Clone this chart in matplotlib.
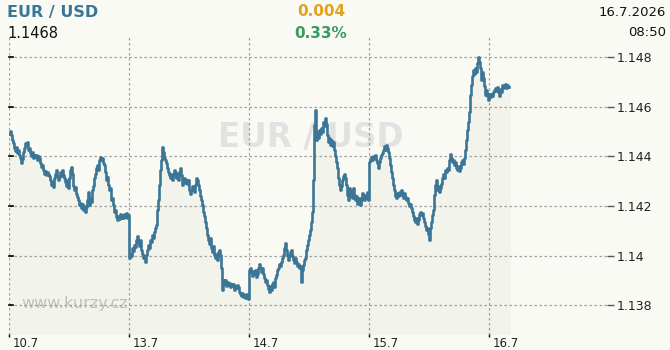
import numpy as np
import matplotlib
matplotlib.use("Agg")
import matplotlib.pyplot as plt
import matplotlib.transforms as mtrans

# EUR/USD quotes, one reading every 12 minutes of trading time
day_10_7 = [
    1.14490, 1.14502, 1.14486, 1.14465, 1.14453, 1.14433, 1.14421, 1.14437, 1.14413, 1.14425,
    1.14405, 1.14393, 1.14373, 1.14389, 1.14417, 1.14433, 1.14453, 1.14445, 1.14457, 1.14425,
    1.14433, 1.14413, 1.14401, 1.14417, 1.14393, 1.14405, 1.14397, 1.14405, 1.14385, 1.14401,
    1.14393, 1.14373, 1.14357, 1.14365, 1.14345, 1.14328, 1.14341, 1.14324, 1.14337, 1.14328,
    1.14320, 1.14304, 1.14284, 1.14296, 1.14276, 1.14312, 1.14328, 1.14345, 1.14320, 1.14304,
    1.14316, 1.14337, 1.14320, 1.14345, 1.14324, 1.14312, 1.14296, 1.14280, 1.14304, 1.14272,
    1.14312, 1.14345, 1.14357, 1.14328, 1.14280, 1.14264, 1.14276, 1.14248, 1.14236, 1.14224,
    1.14204, 1.14212, 1.14191, 1.14208, 1.14183, 1.14200, 1.14175, 1.14196, 1.14224, 1.14256,
    1.14204, 1.14232, 1.14216, 1.14264, 1.14280, 1.14312, 1.14328, 1.14353, 1.14365, 1.14345,
    1.14385, 1.14397, 1.14385, 1.14393, 1.14373, 1.14365, 1.14337, 1.14304, 1.14316, 1.14284,
    1.14264, 1.14272, 1.14224, 1.14232, 1.14204, 1.14175, 1.14183, 1.14155, 1.14143, 1.14159,
    1.14147, 1.14167, 1.14151, 1.14163, 1.14151, 1.14167, 1.14155, 1.14171, 1.14151, 1.14163,
]
day_13_7 = [
    1.13990, 1.14006, 1.13998, 1.14030, 1.14018, 1.14042, 1.14034, 1.14062, 1.14079, 1.14054,
    1.14038, 1.14062, 1.14022, 1.14006, 1.13990, 1.13998, 1.13974, 1.14002, 1.14022, 1.14042,
    1.14030, 1.14062, 1.14054, 1.14083, 1.14071, 1.14095, 1.14111, 1.14123, 1.14183, 1.14224,
    1.14284, 1.14345, 1.14385, 1.14437, 1.14417, 1.14393, 1.14385, 1.14373, 1.14353, 1.14337,
    1.14324, 1.14312, 1.14328, 1.14304, 1.14320, 1.14345, 1.14337, 1.14312, 1.14328, 1.14304,
    1.14337, 1.14353, 1.14324, 1.14284, 1.14296, 1.14312, 1.14292, 1.14304, 1.14288, 1.14304,
    1.14264, 1.14248, 1.14264, 1.14280, 1.14272, 1.14256, 1.14284, 1.14312, 1.14304, 1.14284,
    1.14264, 1.14240, 1.14224, 1.14204, 1.14175, 1.14159, 1.14135, 1.14111, 1.14083, 1.14062,
    1.14046, 1.14071, 1.14030, 1.14014, 1.14038, 1.14002, 1.13990, 1.14006, 1.13982, 1.14014,
    1.14022, 1.14002, 1.13950, 1.13861, 1.13901, 1.13885, 1.13901, 1.13877, 1.13893, 1.13881,
    1.13889, 1.13873, 1.13885, 1.13877, 1.13885, 1.13861, 1.13877, 1.13869, 1.13881, 1.13873,
    1.13853, 1.13845, 1.13837, 1.13849, 1.13833, 1.13841, 1.13829, 1.13845, 1.13837, 1.13825,
]
day_14_7 = [
    1.13942, 1.13950, 1.13933, 1.13917, 1.13938, 1.13925, 1.13942, 1.13913, 1.13925, 1.13950,
    1.13966, 1.13950, 1.13933, 1.13950, 1.13925, 1.13909, 1.13893, 1.13901, 1.13881, 1.13865,
    1.13853, 1.13877, 1.13861, 1.13885, 1.13893, 1.13873, 1.13909, 1.13921, 1.13942, 1.13950,
    1.13966, 1.13958, 1.13974, 1.13990, 1.14002, 1.14030, 1.14050, 1.14022, 1.14002, 1.13982,
    1.13998, 1.14014, 1.14022, 1.13998, 1.13982, 1.13970, 1.13990, 1.13974, 1.13958, 1.13966,
    1.13950, 1.13958, 1.13893, 1.13942, 1.13962, 1.13982, 1.13990, 1.14022, 1.14042, 1.14062,
    1.14083, 1.14103, 1.14135, 1.14175, 1.14304, 1.14526, 1.14586, 1.14465, 1.14498, 1.14474,
    1.14506, 1.14490, 1.14514, 1.14498, 1.14538, 1.14522, 1.14554, 1.14530, 1.14486, 1.14457,
    1.14474, 1.14445, 1.14465, 1.14441, 1.14457, 1.14425, 1.14401, 1.14377, 1.14353, 1.14312,
    1.14284, 1.14264, 1.14280, 1.14304, 1.14320, 1.14328, 1.14312, 1.14284, 1.14244, 1.14224,
    1.14272, 1.14240, 1.14264, 1.14232, 1.14272, 1.14244, 1.14224, 1.14240, 1.14208, 1.14224,
    1.14232, 1.14204, 1.14224, 1.14252, 1.14236, 1.14224, 1.14244, 1.14232, 1.14256, 1.14224,
]
day_15_7 = [
    1.14377, 1.14385, 1.14397, 1.14385, 1.14401, 1.14393, 1.14405, 1.14385, 1.14373, 1.14353,
    1.14377, 1.14393, 1.14405, 1.14413, 1.14425, 1.14441, 1.14425, 1.14445, 1.14433, 1.14417,
    1.14393, 1.14365, 1.14337, 1.14312, 1.14284, 1.14264, 1.14240, 1.14232, 1.14252, 1.14240,
    1.14256, 1.14244, 1.14264, 1.14248, 1.14232, 1.14252, 1.14236, 1.14224, 1.14232, 1.14212,
    1.14200, 1.14208, 1.14191, 1.14175, 1.14159, 1.14143, 1.14135, 1.14151, 1.14127, 1.14143,
    1.14167, 1.14175, 1.14163, 1.14171, 1.14151, 1.14135, 1.14119, 1.14103, 1.14111, 1.14087,
    1.14062, 1.14111, 1.14135, 1.14163, 1.14183, 1.14244, 1.14284, 1.14304, 1.14264, 1.14280,
    1.14256, 1.14272, 1.14288, 1.14312, 1.14328, 1.14312, 1.14345, 1.14337, 1.14353, 1.14345,
    1.14385, 1.14409, 1.14393, 1.14377, 1.14385, 1.14365, 1.14377, 1.14353, 1.14345, 1.14361,
    1.14341, 1.14353, 1.14377, 1.14385, 1.14369, 1.14393, 1.14425, 1.14465, 1.14506, 1.14538,
    1.14578, 1.14647, 1.14687, 1.14723, 1.14748, 1.14732, 1.14756, 1.14740, 1.14776, 1.14800,
    1.14780, 1.14756, 1.14707, 1.14740, 1.14715, 1.14683, 1.14647, 1.14667, 1.14643, 1.14627,
]
day_16_7 = [
    1.14651, 1.14639, 1.14651, 1.14643, 1.14659, 1.14667, 1.14675, 1.14663, 1.14679, 1.14659,
    1.14643, 1.14671, 1.14659, 1.14687, 1.14675, 1.14683, 1.14691, 1.14675, 1.14687, 1.14679,
    1.14679,
]
day_labels = ["10.7", "13.7", "14.7", "15.7", "16.7"]
y_ticks = [1.138, 1.14, 1.142, 1.144, 1.146, 1.148]
pair = "EUR / USD"
last_price = "1.1468"
change = "0.004"
change_pct = "0.33%"
date_str = "16.7.2026"
time_str = "08:50"

bg = "#fafaf5"
fill_col = "#f2f3ea"
line_col = "#3b7696"
grid_col = "#a0a0a0"

quotes = np.array(day_10_7 + day_13_7 + day_14_7 + day_15_7 + day_16_7)
t = np.arange(len(quotes)) / len(day_10_7)  # trading days since 10.7

fig = plt.figure(figsize=(6.7, 3.5), dpi=100, facecolor=bg)
ax = fig.add_axes([9 / 670, 15 / 350, 598 / 670, 299 / 350])
ax.set_facecolor(bg)

ax.set_xlim(0, 598 / 120)
ax.set_ylim(1.13680, 1.14885)

ax.fill_between(np.append(t, t[-1] + 2 / 120), np.append(quotes, quotes[-1]),
                1.13, color=fill_col, step="post", zorder=1, lw=0)
ax.step(t, quotes, where="post", color=line_col, lw=1.9, zorder=3)

# grid
for yv in y_ticks:
    ax.axhline(yv, color=grid_col, lw=0.9, ls=(0, (2, 2)), zorder=2)
for xv in range(len(day_labels)):
    ax.axvline(xv, color=grid_col, lw=0.9, ls=(0, (2, 2)), zorder=2)

for s in ax.spines.values():
    s.set_visible(False)

ax.yaxis.tick_right()
ax.set_yticks(y_ticks)
ax.set_yticklabels([f"{v:g}" for v in y_ticks], fontsize=9, color="#222222")
ax.tick_params(axis="y", length=5, width=1, color="#555555", pad=2)
for yv in y_ticks:
    ax.plot([0, 4 / 120], [yv, yv], color="black", lw=1.2, zorder=4, clip_on=False)

ax.set_xticks(range(len(day_labels)))
ax.set_xticklabels(day_labels, fontsize=8.5, color="#222222", ha="left")
ax.tick_params(axis="x", length=3, width=1, color="black", pad=0, direction="inout")
off = mtrans.ScaledTranslation(4 / 100, 0, fig.dpi_scale_trans)
for lab in ax.get_xticklabels():
    lab.set_transform(lab.get_transform() + off)

# watermarks
ax.text(0.505, 0.66, pair, transform=ax.transAxes, fontsize=23.5, fontweight="bold",
        color="#e2e2e2", ha="center", va="center", zorder=1.5)
ax.text(0.021, 0.107, "www.kurzy.cz", transform=ax.transAxes, fontsize=11.5,
        color="#c0c0c0", ha="left", va="center", zorder=1.5)

# header
fig.text(7 / 670, 1 - 12 / 350, pair, fontsize=11.5, fontweight="bold", color=line_col,
         ha="left", va="center")
fig.text(7 / 670, 1 - 33 / 350, last_price, fontsize=10.5, color="#111111",
         ha="left", va="center")
fig.text(321 / 670, 1 - 12 / 350, change, fontsize=11, fontweight="bold", color="#e3a21a",
         ha="center", va="center")
fig.text(321 / 670, 1 - 33 / 350, change_pct, fontsize=11, fontweight="bold", color="#3a9a60",
         ha="center", va="center")
fig.text(666 / 670, 1 - 12 / 350, date_str, fontsize=9.5, color="#111111",
         ha="right", va="center")
fig.text(666 / 670, 1 - 33 / 350, time_str, fontsize=9.5, color="#111111",
         ha="right", va="center")

fig.savefig("out.png", dpi=100, facecolor=bg)
